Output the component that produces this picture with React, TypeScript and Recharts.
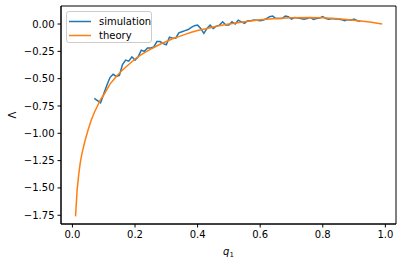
import React from "react";
import { LineChart, Line, XAxis, YAxis, Legend, ReferenceArea } from "recharts";

const theoryQ = [0.01, 0.015, 0.02, 0.025, 0.03, 0.04, 0.05, 0.06, 0.07, 0.08, 0.09, 0.1, 0.12, 0.14, 0.16, 0.18, 0.2, 0.22, 0.24, 0.26, 0.28, 0.3, 0.32, 0.34, 0.36, 0.38, 0.4, 0.43, 0.46, 0.5, 0.55, 0.6, 0.65, 0.7, 0.75, 0.8, 0.85, 0.9, 0.95, 0.99];
const theoryL = [-1.76, -1.52, -1.38, -1.27, -1.19, -1.07, -0.97, -0.88, -0.81, -0.75, -0.69, -0.65, -0.55, -0.48, -0.42, -0.37, -0.32, -0.28, -0.245, -0.215, -0.185, -0.16, -0.135, -0.115, -0.095, -0.075, -0.06, -0.04, -0.02, 0.0, 0.02, 0.04, 0.05, 0.057, 0.06, 0.057, 0.048, 0.035, 0.018, 0.0];

const simQ = [0.07, 0.08, 0.09, 0.1, 0.11, 0.12, 0.13, 0.14, 0.15, 0.16, 0.17, 0.18, 0.19, 0.2, 0.21, 0.22, 0.23, 0.24, 0.25, 0.26, 0.27, 0.28, 0.29, 0.3, 0.31, 0.32, 0.33, 0.34, 0.35, 0.36, 0.37, 0.38, 0.39, 0.4, 0.41, 0.42, 0.43, 0.44, 0.45, 0.46, 0.47, 0.48, 0.49, 0.5, 0.51, 0.52, 0.53, 0.54, 0.55, 0.56, 0.57, 0.58, 0.59, 0.6, 0.61, 0.62, 0.63, 0.64, 0.65, 0.66, 0.67, 0.68, 0.69, 0.7, 0.71, 0.72, 0.73, 0.74, 0.75, 0.76, 0.77, 0.78, 0.79, 0.8, 0.81, 0.82, 0.83, 0.84, 0.85, 0.86, 0.87, 0.88, 0.89, 0.9, 0.91, 0.92];
const simL = [-0.68, -0.7, -0.72, -0.64, -0.56, -0.49, -0.46, -0.48, -0.47, -0.37, -0.33, -0.34, -0.3, -0.33, -0.3, -0.24, -0.25, -0.22, -0.22, -0.21, -0.16, -0.16, -0.18, -0.19, -0.12, -0.13, -0.13, -0.08, -0.07, -0.06, -0.05, -0.03, -0.015, -0.01, -0.04, -0.085, -0.04, -0.01, -0.04, -0.02, -0.01, 0.02, -0.01, -0.01, 0.02, 0.0, 0.035, 0.02, 0.006, 0.03, 0.03, 0.037, 0.035, 0.03, 0.037, 0.05, 0.067, 0.073, 0.05, 0.05, 0.05, 0.073, 0.067, 0.046, 0.06, 0.055, 0.05, 0.043, 0.05, 0.06, 0.043, 0.05, 0.055, 0.067, 0.05, 0.043, 0.05, 0.045, 0.045, 0.04, 0.03, 0.04, 0.035, 0.046, 0.03, 0.025];

const xTicks = [0, 0.2, 0.4, 0.6, 0.8, 1.0];
const yTicks = [-1.75, -1.5, -1.25, -1.0, -0.75, -0.5, -0.25, 0];

const theoryData = theoryQ.map((q, i) => ({ x: q, y: theoryL[i] }));
const simData = simQ.map((q, i) => ({ x: q, y: simL[i] }));

const BLUE = "#1f77b4";
const ORANGE = "#ff7f0e";
const FONT = "DejaVu Sans";
const AX = "#000";
const XD: [number, number] = [-0.0365, 1.034];
const YD: [number, number] = [-1.83, 0.165];

const fmtY = (v: number) => v.toFixed(2).replace("-", "\u2212");
const fmtX = (v: number) => v.toFixed(1);

const LegendBox = () => (
  <div
    style={{
      width: 86,
      height: 32,
      border: "1px solid #cccccc",
      borderRadius: 3,
      background: "rgba(255,255,255,0.8)",
      fontFamily: FONT,
      fontSize: 10,
      color: "#000",
      position: "relative",
      boxSizing: "border-box",
    }}
  >
    <svg width={86} height={32} style={{ position: "absolute", left: 0, top: 0 }}>
      <line x1={2} x2={24} y1={9.5} y2={9.5} stroke={BLUE} strokeWidth={1.5} />
      <line x1={2} x2={24} y1={23.5} y2={23.5} stroke={ORANGE} strokeWidth={1.5} />
      <text x={32} y={13} fontFamily={FONT} fontSize={10} fill="#000">simulation</text>
      <text x={32} y={27} fontFamily={FONT} fontSize={10} fill="#000">theory</text>
    </svg>
  </div>
);

const XLabel = (props: any) => {
  const vb = props.viewBox || {};
  const cx = vb.x + vb.width / 2;
  return (
    <text x={cx} y={255} textAnchor="middle" fontFamily={FONT} fontSize={10} fill="#000">
      <tspan fontStyle="italic">q</tspan>
      <tspan fontSize={7} dy={2}>1</tspan>
    </text>
  );
};

const YLabel = (props: any) => {
  const vb = props.viewBox || {};
  const cy = vb.y + vb.height / 2;
  return (
    <text
      x={12}
      y={cy}
      textAnchor="middle"
      dominantBaseline="central"
      fontFamily={FONT}
      fontSize={10}
      fill="#000"
      transform={`rotate(-90, 12, ${cy})`}
    >
      Λ
    </text>
  );
};

export default function App() {
  return (
    <div style={{ position: "absolute", left: 0, top: 0, width: 402, height: 264, background: "#fff" }}>
      <LineChart width={402} height={264} margin={{ top: 6, right: 6, bottom: 0, left: 0 }}>
        <XAxis
          dataKey="x"
          type="number"
          domain={XD}
          allowDataOverflow
          ticks={xTicks}
          tickFormatter={fmtX}
          height={40}
          stroke={AX}
          tickSize={3.5}
          tickMargin={3}
          tick={{ fontFamily: FONT, fontSize: 10, fill: "#000" }}
          label={<XLabel />}
        />
        <YAxis
          type="number"
          domain={YD}
          allowDataOverflow
          ticks={yTicks}
          tickFormatter={fmtY}
          width={61}
          stroke={AX}
          tickSize={3.5}
          tickMargin={3}
          tick={{ fontFamily: FONT, fontSize: 10, fill: "#000" }}
          label={<YLabel />}
        />
        <ReferenceArea
          x1={XD[0]}
          x2={XD[1]}
          y1={YD[0]}
          y2={YD[1]}
          fill="none"
          fillOpacity={0}
          stroke={AX}
          strokeWidth={1}
          ifOverflow="visible"
        />
        <Legend
          layout="vertical"
          align="center"
          verticalAlign="middle"
          wrapperStyle={{ position: "absolute", left: 66, top: 11, width: 86, height: 32 }}
          content={<LegendBox />}
        />
        <Line
          data={simData}
          dataKey="y"
          name="simulation"
          stroke={BLUE}
          strokeWidth={1.5}
          dot={false}
          activeDot={false}
          isAnimationActive={false}
        />
        <Line
          data={theoryData}
          dataKey="y"
          name="theory"
          stroke={ORANGE}
          strokeWidth={1.5}
          dot={false}
          activeDot={false}
          isAnimationActive={false}
        />
      </LineChart>
    </div>
  );
}
